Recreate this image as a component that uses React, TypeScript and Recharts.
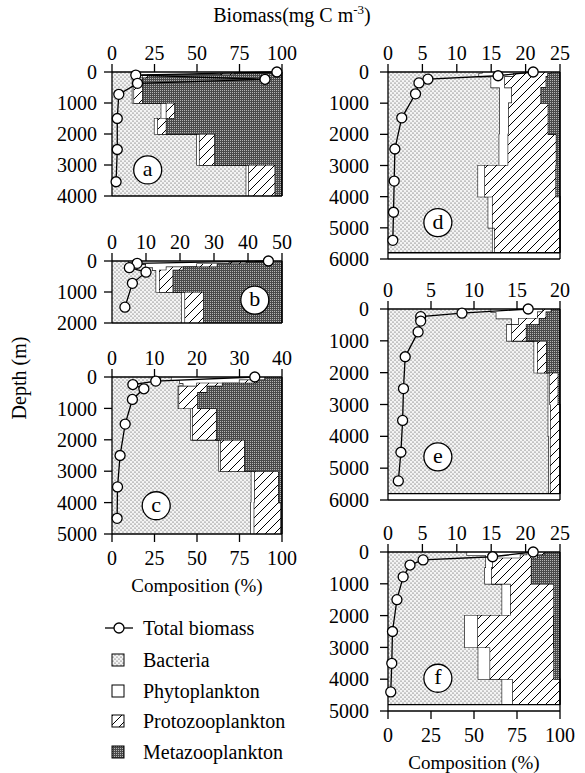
import React from 'react';
import { ComposedChart, Area, Line, XAxis, YAxis, ReferenceLine, ReferenceDot } from 'recharts';

// layer boundaries (m) and composition (%) for each station
const aDepth = [0, 50, 100, 200, 1000, 1500, 2000, 3000, 4000];
const aBact = [12, 14, 16, 12, 29, 25, 50, 79];
const aPhyto = [80, 50, 2, 1, 3, 2, 1.5, 1.5];
const aProto = [4, 8, 3, 5, 5, 5, 9, 15.5];
const aMeta = [4, 28, 79, 82, 63, 68, 39.5, 4];
const aBioDepth = [0, 100, 235, 365, 720, 1500, 2500, 3540];
const aBio = [97, 14, 90, 15, 4, 3.1, 3.1, 2.4];

const bDepth = [0, 50, 100, 200, 300, 1000, 2000];
const bBact = [10, 14, 20, 24, 26, 41];
const bPhyto = [78, 55, 30, 8, 2, 2];
const bProto = [4, 10, 12, 10, 8, 11];
const bMeta = [8, 21, 38, 58, 64, 46];
const bBioDepth = [0, 75, 215, 360, 720, 1490];
const bBio = [46, 7.4, 5.1, 10, 6, 3.8];

const cDepth = [0, 100, 200, 300, 500, 1000, 2000, 3000, 4000, 5000];
const cBact = [35, 40, 42, 39, 39, 46.5, 63, 82, 81.7];
const cPhyto = [50, 35, 8, 0.5, 0.5, 1, 1, 2, 2];
const cProto = [5, 10, 15, 16.5, 11, 14, 14, 14, 15.7];
const cMeta = [10, 15, 35, 44, 49.5, 38.5, 22, 2, 0.6];
const cBioDepth = [0, 130, 240, 375, 715, 1500, 2500, 3500, 4500];
const cBio = [33.6, 10.3, 4.9, 7.5, 4.8, 3.1, 1.9, 1.3, 1.2];

const dDepth = [0, 50, 150, 500, 1000, 2000, 3000, 4000, 5000, 5800];
const dBact = [55, 53, 60, 65, 65, 64.7, 52.4, 58.3, 60.8];
const dPhyto = [25, 20, 8, 7, 5.2, 5.2, 4, 2.5, 1.2];
const dProto = [15, 20, 24, 17, 23, 28, 41.3, 39.2, 38];
const dMeta = [5, 7, 8, 11, 6.8, 2.1, 2.3, 0, 0];
const dBioDepth = [0, 120, 230, 350, 700, 1470, 2470, 3500, 4500, 5400];
const dBio = [21.1, 16, 5.8, 4.5, 4, 2.0, 1.0, 0.9, 0.8, 0.7];

const eDepth = [0, 100, 300, 500, 1000, 2000, 3000, 4000, 5800];
const eBact = [60, 63, 72, 69, 85, 93.2, 93.2, 93.5];
const ePhyto = [30, 24, 4, 3, 2, 1, 1.4, 1];
const eProto = [5, 5, 12, 8.5, 5.2, 4.8, 5.4, 5.5];
const eMeta = [5, 8, 12, 19.5, 7.8, 1, 0, 0];
const eBioDepth = [0, 130, 240, 380, 720, 1500, 2500, 3500, 4500, 5400];
const eBio = [16.3, 8.6, 3.8, 3.8, 3.5, 2.0, 1.8, 1.7, 1.5, 1.2];

const fDepth = [0, 100, 200, 500, 1000, 2000, 3000, 4000, 4800];
const fBact = [46, 57, 57, 56.4, 66.4, 44.7, 52.5, 66.4];
const fPhyto = [35, 20, 4, 3.9, 4.9, 7.6, 6.9, 6.2];
const fProto = [10, 10, 22.4, 23.1, 25.2, 44, 37.1, 27.4];
const fMeta = [9, 13, 16.6, 16.6, 3.5, 3.7, 3.5, 0];
const fBioDepth = [0, 150, 250, 410, 780, 1500, 2500, 3500, 4400];
const fBio = [21.1, 15.2, 5.1, 3.2, 2.2, 1.3, 0.65, 0.55, 0.4];

const compTicks = [0, 25, 50, 75, 100];

const FONT = '"Liberation Serif", "Times New Roman", serif';

type Box = { x: number; y: number; w: number; h: number };

type Panel = {
  id: string;
  depth: number[];
  bact: number[];
  phyto: number[];
  proto: number[];
  meta: number[];
  bioDepth: number[];
  bio: number[];
  bioTicks: number[];
  depthTicks: number[];
  labelAt: [number, number];
  showComp: boolean;
  box: Box;
  yGap: number;
};

const panels: Panel[] = [
  {
    id: 'a', depth: aDepth, bact: aBact, phyto: aPhyto, proto: aProto, meta: aMeta,
    bioDepth: aBioDepth, bio: aBio, bioTicks: [0, 25, 50, 75, 100],
    depthTicks: [0, 1000, 2000, 3000, 4000], labelAt: [21, 3160], showComp: false,
    box: { x: 112, y: 72, w: 170, h: 124 }, yGap: 7,
  },
  {
    id: 'b', depth: bDepth, bact: bBact, phyto: bPhyto, proto: bProto, meta: bMeta,
    bioDepth: bBioDepth, bio: bBio, bioTicks: [0, 10, 20, 30, 40, 50],
    depthTicks: [0, 1000, 2000], labelAt: [84, 1260], showComp: false,
    box: { x: 112, y: 261, w: 170, h: 62 }, yGap: 7,
  },
  {
    id: 'c', depth: cDepth, bact: cBact, phyto: cPhyto, proto: cProto, meta: cMeta,
    bioDepth: cBioDepth, bio: cBio, bioTicks: [0, 10, 20, 30, 40],
    depthTicks: [0, 1000, 2000, 3000, 4000, 5000], labelAt: [26, 4100], showComp: true,
    box: { x: 112, y: 377, w: 170, h: 157 }, yGap: 7,
  },
  {
    id: 'd', depth: dDepth, bact: dBact, phyto: dPhyto, proto: dProto, meta: dMeta,
    bioDepth: dBioDepth, bio: dBio, bioTicks: [0, 5, 10, 15, 20, 25],
    depthTicks: [0, 1000, 2000, 3000, 4000, 5000, 6000], labelAt: [29, 4830], showComp: false,
    box: { x: 388, y: 72, w: 172, h: 187 }, yGap: 11,
  },
  {
    id: 'e', depth: eDepth, bact: eBact, phyto: ePhyto, proto: eProto, meta: eMeta,
    bioDepth: eBioDepth, bio: eBio, bioTicks: [0, 5, 10, 15, 20],
    depthTicks: [0, 1000, 2000, 3000, 4000, 5000, 6000], labelAt: [29, 4645], showComp: false,
    box: { x: 388, y: 309, w: 172, h: 191 }, yGap: 11,
  },
  {
    id: 'f', depth: fDepth, bact: fBact, phyto: fPhyto, proto: fProto, meta: fMeta,
    bioDepth: fBioDepth, bio: fBio, bioTicks: [0, 5, 10, 15, 20, 25],
    depthTicks: [0, 1000, 2000, 3000, 4000, 5000], labelAt: [29, 3970], showComp: true,
    box: { x: 388, y: 552, w: 172, h: 159 }, yGap: 11,
  },
];

// each layer becomes two rows (top and bottom) so the stacked areas step
function layerRows(p: Panel) {
  const rows: any[] = [];
  for (let i = 0; i < p.bact.length; i++) {
    for (const d of [p.depth[i], p.depth[i + 1]]) {
      rows.push({ depth: d, bact: p.bact[i], phyto: p.phyto[i], proto: p.proto[i], meta: p.meta[i] });
    }
  }
  return rows;
}

function bioRows(p: Panel) {
  return p.bioDepth.map((d, i) => ({ depth: d, bio: p.bio[i] }));
}

const tickStyle = { fontFamily: FONT, fontSize: 20, fill: '#000' };
const lineStyle = { stroke: '#000', strokeWidth: 1.3 };

function Station({ p }: { p: Panel }) {
  const L = 70, T = 34, B = 34, R = 24;
  const { x, y, w, h } = p.box;
  const yMax = p.depthTicks[p.depthTicks.length - 1];
  const bioMax = p.bioTicks[p.bioTicks.length - 1];
  const end = p.depth[p.depth.length - 1];

  return (
    <div style={{ position: 'absolute', left: x - L, top: y - T }}>
      <ComposedChart
        layout="vertical"
        width={L + w + R}
        height={T + h + B}
        data={layerRows(p)}
        margin={{ top: 0, right: R, bottom: 0, left: 0 }}
      >
        <XAxis
          xAxisId="bio" orientation="top" type="number" domain={[0, bioMax]} ticks={p.bioTicks}
          interval={0} height={T} stroke="#000" tick={tickStyle} tickSize={8} tickMargin={4}
          axisLine={lineStyle} tickLine={lineStyle}
        />
        <XAxis
          xAxisId="comp" orientation="bottom" type="number" domain={[0, 100]} ticks={compTicks}
          interval={0} height={B} stroke="#000" tick={p.showComp ? tickStyle : false}
          tickSize={8} tickMargin={9} axisLine={lineStyle} tickLine={lineStyle}
        />
        <YAxis
          type="number" dataKey="depth" domain={[0, yMax]} ticks={p.depthTicks}
          interval={0} width={L} stroke="#000" tick={tickStyle} tickSize={8} tickMargin={p.yGap}
          axisLine={lineStyle} tickLine={lineStyle}
        />
        <Area xAxisId="comp" dataKey="bact" stackId="s" type="linear" fill="url(#pat-bact)" fillOpacity={1}
          stroke="#000" strokeWidth={1.2} dot={false} activeDot={false} isAnimationActive={false} />
        <Area xAxisId="comp" dataKey="phyto" stackId="s" type="linear" fill="#fff" fillOpacity={1}
          stroke="#000" strokeWidth={1.2} dot={false} activeDot={false} isAnimationActive={false} />
        <Area xAxisId="comp" dataKey="proto" stackId="s" type="linear" fill="url(#pat-proto)" fillOpacity={1}
          stroke="#000" strokeWidth={1.2} dot={false} activeDot={false} isAnimationActive={false} />
        <Area xAxisId="comp" dataKey="meta" stackId="s" type="linear" fill="url(#pat-meta)" fillOpacity={1}
          stroke="#000" strokeWidth={1.2} dot={false} activeDot={false} isAnimationActive={false} />
        <ReferenceLine xAxisId="comp" x={100} stroke="#000" strokeWidth={1.3} />
        {end < yMax && <ReferenceLine xAxisId="comp" y={end} stroke="#000" strokeWidth={1.3} />}
        <ReferenceDot
          xAxisId="comp"
          x={p.labelAt[0]}
          y={p.labelAt[1]}
          shape={(s: any) => (
            <g>
              <circle cx={s.cx} cy={s.cy} r={14} fill="#fff" stroke="#000" strokeWidth={1.3} />
              <text x={s.cx} y={s.cy + 6} textAnchor="middle" fontFamily={FONT} fontSize={22} fill="#000">
                {p.id}
              </text>
            </g>
          )}
        />
        <Line
          xAxisId="bio" data={bioRows(p)} dataKey="bio" type="linear" stroke="#000" strokeWidth={1.3}
          dot={{ r: 5, fill: '#fff', stroke: '#000', strokeWidth: 1.3 }} activeDot={false}
          isAnimationActive={false}
        />
      </ComposedChart>
    </div>
  );
}

const legendItems = [
  { name: 'Bacteria', fill: 'url(#pat-bact)' },
  { name: 'Phytoplankton', fill: '#fff' },
  { name: 'Protozooplankton', fill: 'url(#pat-proto)' },
  { name: 'Metazooplankton', fill: 'url(#pat-meta)' },
];

function Overlay() {
  const rowY = [661, 692, 722, 753];
  return (
    <svg width={585} height={773} style={{ position: 'absolute', left: 0, top: 0 }}>
      <defs>
        <pattern id="pat-bact" width={4} height={4} patternUnits="userSpaceOnUse">
          <rect width={4} height={4} fill="#f4f4f4" />
          <circle cx={1} cy={1} r={0.6} fill="#3a3a3a" />
          <circle cx={3} cy={3} r={0.6} fill="#3a3a3a" />
        </pattern>
        <pattern id="pat-proto" width={9} height={9} patternUnits="userSpaceOnUse">
          <rect width={9} height={9} fill="#fff" />
          <path d="M0,9 L9,0 M-2,2 L2,-2 M7,11 L11,7" stroke="#000" strokeWidth={1} />
        </pattern>
        <pattern id="pat-meta" width={2} height={2} patternUnits="userSpaceOnUse">
          <rect width={2} height={2} fill="#4a4a4a" />
          <rect width={1} height={1} fill="#b5b5b5" />
        </pattern>
      </defs>
      <text x={292} y={22} textAnchor="middle" fontFamily={FONT} fontSize={20} fill="#000">
        Biomass(mg C m<tspan dy={-8} fontSize={13}>-3</tspan>
        <tspan dy={8}>)</tspan>
      </text>
      <text x={26} y={378} textAnchor="middle" fontFamily={FONT} fontSize={20} fill="#000"
        transform="rotate(-90 26 378)">
        Depth (m)
      </text>
      <text x={197} y={592} textAnchor="middle" fontFamily={FONT} fontSize={19} fill="#000">
        Composition (%)
      </text>
      <text x={474} y={769} textAnchor="middle" fontFamily={FONT} fontSize={19} fill="#000">
        Composition (%)
      </text>
      <line x1={105} y1={628} x2={133} y2={628} stroke="#000" strokeWidth={1.3} />
      <circle cx={119} cy={628} r={5} fill="#fff" stroke="#000" strokeWidth={1.3} />
      <text x={143} y={635} fontFamily={FONT} fontSize={20} fill="#000">Total biomass</text>
      {legendItems.map((it, i) => (
        <g key={it.name}>
          <rect x={112} y={rowY[i] - 7} width={12} height={12} fill={it.fill} stroke="#000" strokeWidth={1} />
          <text x={143} y={rowY[i] + 6} fontFamily={FONT} fontSize={20} fill="#000">{it.name}</text>
        </g>
      ))}
    </svg>
  );
}

export default function App() {
  return (
    <div style={{ position: 'absolute', left: 0, top: 0, width: 585, height: 773, background: '#fff' }}>
      <Overlay />
      {panels.map((p) => (
        <Station key={p.id} p={p} />
      ))}
    </div>
  );
}
